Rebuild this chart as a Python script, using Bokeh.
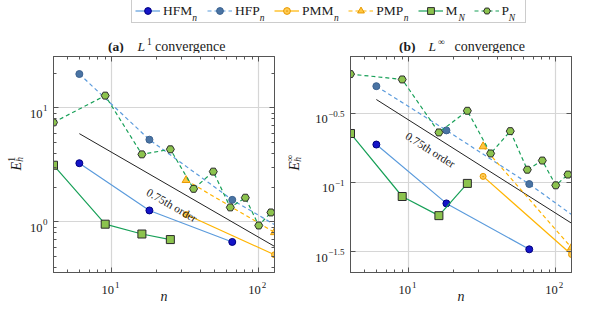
import math
from bokeh.plotting import figure
from bokeh.models import Range1d, LogAxis, LogScale, FixedTicker, Label, Legend, LegendItem
from bokeh.layouts import column, row
from bokeh.embed import file_html
from bokeh.resources import INLINE

FONT = "Liberation Serif"
INK = "#1a1a1a"
FRAME = "#555555"

# ---------------- data ----------------
hfm_n = [6, 18, 66]
hfp_n = [6, 18, 66, 258]
pmm_n = [32, 128]
pmp_n = [32, 128]
m_n = [4, 9, 16, 25]
p_n = [4, 9, 16, 25, 36, 49, 64, 81, 100, 121]
ref_n = [6, 128]

# (a) L1 errors
hfm_l1 = [3.27, 1.26, 0.667]
hfp_l1 = [19.8, 5.26, 1.56, 0.558]
pmm_l1 = [1.16, 0.515]
pmp_l1 = [2.32, 0.81]
m_l1 = [3.14, 0.955, 0.783, 0.70]
p_l1 = [7.45, 12.8, 3.91, 4.33, 1.95, 2.76, 1.34, 1.63, 0.93, 1.21]
ref_l1 = [5.94, 0.61]

# (b) Linf errors
hfm_linf = [0.188, 0.0705, 0.0328]
hfp_linf = [0.497, 0.238, 0.0973, 0.0343]
pmm_linf = [0.1106, 0.0301]
pmp_linf = [0.182, 0.0337]
m_linf = [0.226, 0.0791, 0.0575, 0.0984]
p_linf = [0.608, 0.556, 0.230, 0.330, 0.162, 0.235, 0.1236, 0.144, 0.0953, 0.114]
ref_linf = [0.398, 0.0507]

# axes / ticks
x_lim = (4, 128)
l1_lim = (0.36, 28.2)
linf_lim = (0.0223, 0.815)
x_ticks = [10, 100]
x_tick_exp = ["1", "2"]
l1_ticks = [1, 10]
l1_tick_exp = ["0", "1"]
linf_ticks = [10 ** -1.5, 10 ** -1, 10 ** -0.5]
linf_tick_exp = ["\u22121.5", "\u22121", "\u22120.5"]
x_minor = [k * 10 ** e for e in (0, 1) for k in range(2, 10) if 4 <= k * 10 ** e <= 128]
l1_minor = [k * 10 ** e for e in (-1, 0, 1) for k in range(2, 10) if 0.36 <= k * 10 ** e <= 28.2]

series_names = ["HFM", "HFP", "PMM", "PMP", "M", "P"]
series_subs = ["n", "n", "n", "n", "N", "N"]
ref_text = "0.75th order"
ref_text_pos_a = (25.6, 1.40)
ref_text_pos_b = (14.0, 0.172)

BLUE_L = "#5b9bdc"
ORNG = "#ffb400"
GREEN = "#18a058"
styles = [
    dict(line=dict(line_color=BLUE_L, line_width=1.2),
         mark=dict(marker="circle", size=7, fill_color="#1414c8", line_color="#000080")),
    dict(line=dict(line_color=BLUE_L, line_width=1.2, line_dash="4 3"),
         mark=dict(marker="circle", size=7, fill_color="#4a74a4", line_color="#3c6290")),
    dict(line=dict(line_color=ORNG, line_width=1.2),
         mark=dict(marker="circle_dot", size=6, fill_color="#ffcb55", line_color="#e89a00")),
    dict(line=dict(line_color=ORNG, line_width=1.2, line_dash="4 3"),
         mark=dict(marker="triangle", size=8, fill_color="#ffc640", line_color="#e89a00")),
    dict(line=dict(line_color=GREEN, line_width=1.2),
         mark=dict(marker="square", size=8, fill_color="#8cc34e", line_color="#2a2a2a")),
    dict(line=dict(line_color=GREEN, line_width=1.2, line_dash="4 3"),
         mark=dict(marker="hex", size=8, fill_color="#8cc34e", line_color="#2a2a2a")),
]

# ---------------- layout numbers ----------------
FW, FH = 221, 216          # frame size of each panel
BL, BR, BTB = 3, 2, 3      # panel borders (ticks only)
PW, PH = FW + BL + BR, FH + 2 * BTB
TH, XH = 27, 29            # title strip / x-label strip heights
COLH = TH + PH + XH
SA, SB = 50, 71            # left strips (y tick labels, y label) widths
TW = {"0": .5, "1": .5, "2": .5, "5": .5, ".": .25, "\u2212": .564,
      "H": .722, "F": .556, "M": .889, "P": .556, " ": .25}


def tw(s, size):
    return sum(TW.get(c, .5) for c in s) * size


def lab(p, text, x, y, xo=0, yo=0, size=12.5, style="normal", align="left",
        base="alphabetic", angle=0.0, level="annotation"):
    p.add_layout(Label(x=x, y=y, x_offset=xo, y_offset=yo, level=level,
                       text=text, text_font=FONT, text_font_size=f"{size}px",
                       text_font_style=style, text_color=INK, text_align=align,
                       text_baseline=base, angle=angle))


def strip(w, h, xr, yr, xlog=False, ylog=False, bl=0, br=0, bt=0, bb=0):
    s = figure(width=w, height=h, x_range=xr, y_range=yr, x_axis_type=None,
               y_axis_type=None, toolbar_location=None, output_backend="svg",
               min_border_left=bl, min_border_right=br, min_border_top=bt,
               min_border_bottom=bb)
    s.title_location = None
    if xlog:
        s.x_scale = LogScale()
    if ylog:
        s.y_scale = LogScale()
    s.outline_line_color = None
    return s


def make_block(ylim, ys, ref_y, yt, yt_exp, y_minor, tag, tsup, title_off,
               esup, e_base, sw, txt_pos):
    xr = Range1d(*x_lim)
    yr = Range1d(*ylim)
    p = figure(width=PW, height=PH, x_axis_type="log", y_axis_type="log",
               x_range=xr, y_range=yr, toolbar_location=None, output_backend="svg",
               min_border_left=BL, min_border_right=BR,
               min_border_top=BTB, min_border_bottom=BTB)
    p.title_location = None
    p.outline_line_color = FRAME
    p.add_layout(LogAxis(), "above")
    p.add_layout(LogAxis(), "right")
    for ax in p.xaxis:
        ax.ticker = FixedTicker(ticks=x_ticks, minor_ticks=x_minor)
    for ax in p.yaxis:
        ax.ticker = FixedTicker(ticks=yt, minor_ticks=y_minor)
    for ax in p.axis:
        ax.major_label_text_font_size = "1px"
        ax.major_label_text_color = None
        ax.major_label_standoff = 0
        ax.axis_line_color = FRAME
        ax.major_tick_line_color = FRAME
        ax.minor_tick_line_color = FRAME
        ax.major_tick_in = 5
        ax.major_tick_out = 0
        ax.minor_tick_in = 3
        ax.minor_tick_out = 0
    p.xgrid.grid_line_color = "#d6d6d6"
    p.ygrid.grid_line_color = "#d6d6d6"
    p.xgrid.grid_line_width = 1.2
    p.ygrid.grid_line_width = 1.2

    p.line(ref_n, ref_y, line_color="#222222", line_width=1.0)
    xs_all = [hfm_n, hfp_n, pmm_n, pmp_n, m_n, p_n]
    for xs, yv, st in zip(xs_all, ys, styles):
        p.line(xs, yv, **st["line"])
        p.scatter(xs, yv, line_width=1.0, **st["mark"])

    lx = math.log10(x_lim[1] / x_lim[0])
    ly = math.log10(ylim[1] / ylim[0])
    slope = math.log10(ref_y[0] / ref_y[1]) / math.log10(ref_n[1] / ref_n[0])
    ang = -math.atan(slope * (FH / ly) / (FW / lx))
    lab(p, ref_text, txt_pos[0], txt_pos[1], size=11.5, align="center", base="middle", angle=ang)

    # title strip
    t = strip(PW, TH, xr, Range1d(0, TH), xlog=True, bl=BL, br=BR)
    a0 = title_off
    lab(t, tag, x_lim[0], 7, xo=a0[0], size=13.5, style="bold")
    lab(t, "L", x_lim[0], 7, xo=a0[1], size=13.5, style="italic")
    lab(t, tsup, x_lim[0], 12, xo=a0[2], size=9.5)
    lab(t, "convergence", x_lim[0], 7, xo=a0[3], size=14)

    # x-label strip
    b = strip(PW, XH, xr, Range1d(0, XH), xlog=True, bl=BL, br=BR)
    for tk, e in zip(x_ticks, x_tick_exp):
        lab(b, "10", tk, 15, xo=2, size=12.5, align="right")
        lab(b, e, tk, 19.5, xo=3, size=9)
    lab(b, "n", math.sqrt(x_lim[0] * x_lim[1]), 8, size=14, style="italic", align="center")

    # y-label strip (shares the panel's y scale)
    s = strip(sw, COLH, Range1d(0, sw), yr, ylog=True, bt=TH + BTB, bb=XH + BTB)
    xr_edge = sw + BL
    for tk, e in zip(yt, yt_exp):
        lab(s, e, xr_edge - 6, tk, yo=-0.5, size=9, align="right")
        lab(s, "10", xr_edge - 6.5 - tw(e, 9), tk, yo=-6, size=12.5, align="right")
    ymid = math.sqrt(ylim[0] * ylim[1])
    lab(s, "E", e_base, ymid, yo=-6, size=14, style="italic", angle=math.pi / 2)
    lab(s, "h", e_base + 3, ymid, yo=2.8, size=9.5, style="italic", angle=math.pi / 2)
    lab(s, esup, e_base - 5, ymid, yo=2.8, size=9.5, angle=math.pi / 2)

    return row(s, column(t, p, b))


blk_a = make_block(l1_lim, [hfm_l1, hfp_l1, pmm_l1, pmp_l1, m_l1, p_l1], ref_l1,
                   l1_ticks, l1_tick_exp, l1_minor, "(a)", "1", (54.5, 84, 93.5, 101.5),
                   "1", 16, SA, ref_text_pos_a)
blk_b = make_block(linf_lim, [hfm_linf, hfp_linf, pmm_linf, pmp_linf, m_linf, p_linf], ref_linf,
                   linf_ticks, linf_tick_exp, [], "(b)", "\u221e", (48.5, 78, 87.5, 104),
                   "\u221e", 18, SB, ref_text_pos_b)

# ---------------- legend strip ----------------
LW, LH = SA + SB + 2 * PW, 26
leg = strip(LW, LH, Range1d(0, LW), Range1d(0, LH))
items = []
for name, st in zip(series_names, styles):
    # placeholder point outside the visible strip: only feeds the legend sample
    lr = leg.line(x=[-100, -90], y=[-100, -100], **st["line"])
    sr = leg.scatter(x=[-100], y=[-100], line_width=1.0, **st["mark"])
    items.append(LegendItem(label=name + "  ", renderers=[lr, sr]))

LEG_X, LEG_Y, PAD, GW, GH, STAND, SPC, LFS = 131, 3, 3, 25, 17, 3, 8, 13.5
legend = Legend(items=items, orientation="horizontal", location=(LEG_X, LEG_Y),
                glyph_width=GW, glyph_height=GH, label_standoff=STAND, spacing=SPC,
                padding=PAD, margin=0, label_height=16,
                border_line_color="#999999", border_line_width=1.3,
                background_fill_color="white", background_fill_alpha=0.0,
                label_text_font=FONT, label_text_font_size=f"{LFS}px",
                label_text_color=INK)
leg.add_layout(legend)

xcur = LEG_X + PAD
for name, sub in zip(series_names, series_subs):
    lstart = xcur + GW + STAND
    lab(leg, sub, lstart + tw(name, LFS) + 0.5, LEG_Y + PAD + GH / 2 - 6,
        size=9.5, style="italic", level="overlay")
    xcur = lstart + tw(name + "  ", LFS) + SPC

layout = column(leg, row(blk_a, blk_b))
open("out.html", "w").write(file_html(layout, INLINE))
